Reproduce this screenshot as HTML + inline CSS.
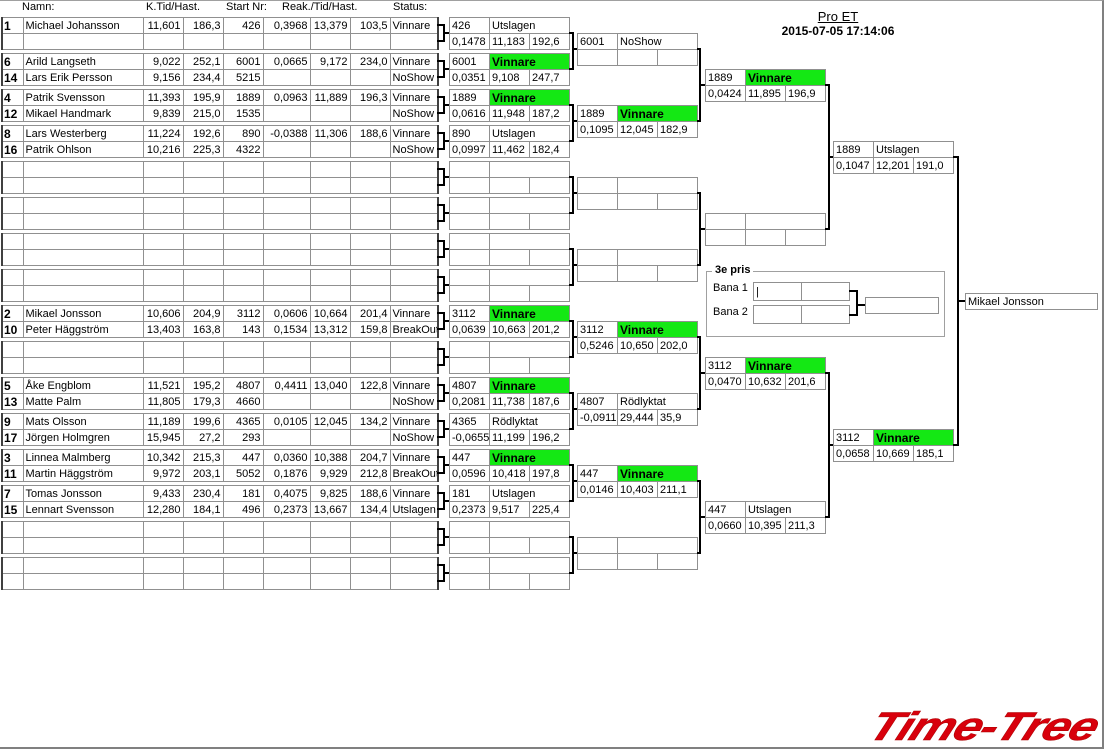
<!DOCTYPE html>
<html><head><meta charset="utf-8"><style>
body{margin:0;width:1104px;height:748px;background:#fff;position:relative;overflow:hidden;font-family:"Liberation Sans",Arial,sans-serif;font-size:11px;color:#000}
.frame{position:absolute;left:0;top:0;width:1102px;height:746px;border-right:2px solid #808080;border-bottom:2px solid #808080;border-top:1px solid #a0a0a0}
table{position:absolute;border-collapse:collapse;table-layout:fixed}
td{height:16px;padding:0 2px;border:1px solid #909090;white-space:nowrap;overflow:hidden;line-height:14px;font-size:11px;box-sizing:border-box}
.L td{text-align:right}
.L td.n{text-align:left;font-weight:bold;font-size:12px;padding:0 1px;border-left:2px solid #404040}
.L td.nm,.L td.st{text-align:left}
.L td.st{border-right:2px solid #404040}
.R{width:121px}
.g{background:#14e814;font-weight:bold;font-size:12px}
.b{position:absolute;background:#000}
.h{position:absolute;font-size:11px;top:1px}
</style></head><body>
<div class="frame"></div>
<div class="h" style="left:22px">Namn:</div>
<div class="h" style="left:146px">K.Tid/Hast.</div>
<div class="h" style="left:226px">Start Nr:</div>
<div class="h" style="left:282px">Reak./Tid/Hast.</div>
<div class="h" style="left:393px">Status:</div>
<div style="position:absolute;left:790px;top:9px;width:96px;text-align:center;font-size:13px;text-decoration:underline">Pro ET</div>
<div style="position:absolute;left:760px;top:24px;width:156px;text-align:center;font-size:12px;font-weight:bold">2015-07-05 17:14:06</div>

<table class="L" style="left:1px;top:17px;width:436px"><colgroup><col style="width:21px"><col style="width:120px"><col style="width:40px"><col style="width:40px"><col style="width:40px"><col style="width:47px"><col style="width:40px"><col style="width:40px"><col style="width:48px"></colgroup>
<tr><td class="n">1</td><td class="nm">Michael Johansson</td><td>11,601</td><td>186,3</td><td>426</td><td>0,3968</td><td>13,379</td><td>103,5</td><td class="st">Vinnare</td></tr>
<tr><td class="n"></td><td class="nm"></td><td></td><td></td><td></td><td></td><td></td><td></td><td class="st"></td></tr></table>
<table class="L" style="left:1px;top:53px;width:436px"><colgroup><col style="width:21px"><col style="width:120px"><col style="width:40px"><col style="width:40px"><col style="width:40px"><col style="width:47px"><col style="width:40px"><col style="width:40px"><col style="width:48px"></colgroup>
<tr><td class="n">6</td><td class="nm">Arild Langseth</td><td>9,022</td><td>252,1</td><td>6001</td><td>0,0665</td><td>9,172</td><td>234,0</td><td class="st">Vinnare</td></tr>
<tr><td class="n">14</td><td class="nm">Lars Erik Persson</td><td>9,156</td><td>234,4</td><td>5215</td><td></td><td></td><td></td><td class="st">NoShow</td></tr></table>
<table class="L" style="left:1px;top:89px;width:436px"><colgroup><col style="width:21px"><col style="width:120px"><col style="width:40px"><col style="width:40px"><col style="width:40px"><col style="width:47px"><col style="width:40px"><col style="width:40px"><col style="width:48px"></colgroup>
<tr><td class="n">4</td><td class="nm">Patrik Svensson</td><td>11,393</td><td>195,9</td><td>1889</td><td>0,0963</td><td>11,889</td><td>196,3</td><td class="st">Vinnare</td></tr>
<tr><td class="n">12</td><td class="nm">Mikael Handmark</td><td>9,839</td><td>215,0</td><td>1535</td><td></td><td></td><td></td><td class="st">NoShow</td></tr></table>
<table class="L" style="left:1px;top:125px;width:436px"><colgroup><col style="width:21px"><col style="width:120px"><col style="width:40px"><col style="width:40px"><col style="width:40px"><col style="width:47px"><col style="width:40px"><col style="width:40px"><col style="width:48px"></colgroup>
<tr><td class="n">8</td><td class="nm">Lars Westerberg</td><td>11,224</td><td>192,6</td><td>890</td><td>-0,0388</td><td>11,306</td><td>188,6</td><td class="st">Vinnare</td></tr>
<tr><td class="n">16</td><td class="nm">Patrik Ohlson</td><td>10,216</td><td>225,3</td><td>4322</td><td></td><td></td><td></td><td class="st">NoShow</td></tr></table>
<table class="L" style="left:1px;top:161px;width:436px"><colgroup><col style="width:21px"><col style="width:120px"><col style="width:40px"><col style="width:40px"><col style="width:40px"><col style="width:47px"><col style="width:40px"><col style="width:40px"><col style="width:48px"></colgroup>
<tr><td class="n"></td><td class="nm"></td><td></td><td></td><td></td><td></td><td></td><td></td><td class="st"></td></tr>
<tr><td class="n"></td><td class="nm"></td><td></td><td></td><td></td><td></td><td></td><td></td><td class="st"></td></tr></table>
<table class="L" style="left:1px;top:197px;width:436px"><colgroup><col style="width:21px"><col style="width:120px"><col style="width:40px"><col style="width:40px"><col style="width:40px"><col style="width:47px"><col style="width:40px"><col style="width:40px"><col style="width:48px"></colgroup>
<tr><td class="n"></td><td class="nm"></td><td></td><td></td><td></td><td></td><td></td><td></td><td class="st"></td></tr>
<tr><td class="n"></td><td class="nm"></td><td></td><td></td><td></td><td></td><td></td><td></td><td class="st"></td></tr></table>
<table class="L" style="left:1px;top:233px;width:436px"><colgroup><col style="width:21px"><col style="width:120px"><col style="width:40px"><col style="width:40px"><col style="width:40px"><col style="width:47px"><col style="width:40px"><col style="width:40px"><col style="width:48px"></colgroup>
<tr><td class="n"></td><td class="nm"></td><td></td><td></td><td></td><td></td><td></td><td></td><td class="st"></td></tr>
<tr><td class="n"></td><td class="nm"></td><td></td><td></td><td></td><td></td><td></td><td></td><td class="st"></td></tr></table>
<table class="L" style="left:1px;top:269px;width:436px"><colgroup><col style="width:21px"><col style="width:120px"><col style="width:40px"><col style="width:40px"><col style="width:40px"><col style="width:47px"><col style="width:40px"><col style="width:40px"><col style="width:48px"></colgroup>
<tr><td class="n"></td><td class="nm"></td><td></td><td></td><td></td><td></td><td></td><td></td><td class="st"></td></tr>
<tr><td class="n"></td><td class="nm"></td><td></td><td></td><td></td><td></td><td></td><td></td><td class="st"></td></tr></table>
<table class="L" style="left:1px;top:305px;width:436px"><colgroup><col style="width:21px"><col style="width:120px"><col style="width:40px"><col style="width:40px"><col style="width:40px"><col style="width:47px"><col style="width:40px"><col style="width:40px"><col style="width:48px"></colgroup>
<tr><td class="n">2</td><td class="nm">Mikael Jonsson</td><td>10,606</td><td>204,9</td><td>3112</td><td>0,0606</td><td>10,664</td><td>201,4</td><td class="st">Vinnare</td></tr>
<tr><td class="n">10</td><td class="nm">Peter Häggström</td><td>13,403</td><td>163,8</td><td>143</td><td>0,1534</td><td>13,312</td><td>159,8</td><td class="st">BreakOut</td></tr></table>
<table class="L" style="left:1px;top:341px;width:436px"><colgroup><col style="width:21px"><col style="width:120px"><col style="width:40px"><col style="width:40px"><col style="width:40px"><col style="width:47px"><col style="width:40px"><col style="width:40px"><col style="width:48px"></colgroup>
<tr><td class="n"></td><td class="nm"></td><td></td><td></td><td></td><td></td><td></td><td></td><td class="st"></td></tr>
<tr><td class="n"></td><td class="nm"></td><td></td><td></td><td></td><td></td><td></td><td></td><td class="st"></td></tr></table>
<table class="L" style="left:1px;top:377px;width:436px"><colgroup><col style="width:21px"><col style="width:120px"><col style="width:40px"><col style="width:40px"><col style="width:40px"><col style="width:47px"><col style="width:40px"><col style="width:40px"><col style="width:48px"></colgroup>
<tr><td class="n">5</td><td class="nm">Åke Engblom</td><td>11,521</td><td>195,2</td><td>4807</td><td>0,4411</td><td>13,040</td><td>122,8</td><td class="st">Vinnare</td></tr>
<tr><td class="n">13</td><td class="nm">Matte Palm</td><td>11,805</td><td>179,3</td><td>4660</td><td></td><td></td><td></td><td class="st">NoShow</td></tr></table>
<table class="L" style="left:1px;top:413px;width:436px"><colgroup><col style="width:21px"><col style="width:120px"><col style="width:40px"><col style="width:40px"><col style="width:40px"><col style="width:47px"><col style="width:40px"><col style="width:40px"><col style="width:48px"></colgroup>
<tr><td class="n">9</td><td class="nm">Mats Olsson</td><td>11,189</td><td>199,6</td><td>4365</td><td>0,0105</td><td>12,045</td><td>134,2</td><td class="st">Vinnare</td></tr>
<tr><td class="n">17</td><td class="nm">Jörgen Holmgren</td><td>15,945</td><td>27,2</td><td>293</td><td></td><td></td><td></td><td class="st">NoShow</td></tr></table>
<table class="L" style="left:1px;top:449px;width:436px"><colgroup><col style="width:21px"><col style="width:120px"><col style="width:40px"><col style="width:40px"><col style="width:40px"><col style="width:47px"><col style="width:40px"><col style="width:40px"><col style="width:48px"></colgroup>
<tr><td class="n">3</td><td class="nm">Linnea Malmberg</td><td>10,342</td><td>215,3</td><td>447</td><td>0,0360</td><td>10,388</td><td>204,7</td><td class="st">Vinnare</td></tr>
<tr><td class="n">11</td><td class="nm">Martin Häggström</td><td>9,972</td><td>203,1</td><td>5052</td><td>0,1876</td><td>9,929</td><td>212,8</td><td class="st">BreakOut</td></tr></table>
<table class="L" style="left:1px;top:485px;width:436px"><colgroup><col style="width:21px"><col style="width:120px"><col style="width:40px"><col style="width:40px"><col style="width:40px"><col style="width:47px"><col style="width:40px"><col style="width:40px"><col style="width:48px"></colgroup>
<tr><td class="n">7</td><td class="nm">Tomas Jonsson</td><td>9,433</td><td>230,4</td><td>181</td><td>0,4075</td><td>9,825</td><td>188,6</td><td class="st">Vinnare</td></tr>
<tr><td class="n">15</td><td class="nm">Lennart Svensson</td><td>12,280</td><td>184,1</td><td>496</td><td>0,2373</td><td>13,667</td><td>134,4</td><td class="st">Utslagen</td></tr></table>
<table class="L" style="left:1px;top:521px;width:436px"><colgroup><col style="width:21px"><col style="width:120px"><col style="width:40px"><col style="width:40px"><col style="width:40px"><col style="width:47px"><col style="width:40px"><col style="width:40px"><col style="width:48px"></colgroup>
<tr><td class="n"></td><td class="nm"></td><td></td><td></td><td></td><td></td><td></td><td></td><td class="st"></td></tr>
<tr><td class="n"></td><td class="nm"></td><td></td><td></td><td></td><td></td><td></td><td></td><td class="st"></td></tr></table>
<table class="L" style="left:1px;top:557px;width:436px"><colgroup><col style="width:21px"><col style="width:120px"><col style="width:40px"><col style="width:40px"><col style="width:40px"><col style="width:47px"><col style="width:40px"><col style="width:40px"><col style="width:48px"></colgroup>
<tr><td class="n"></td><td class="nm"></td><td></td><td></td><td></td><td></td><td></td><td></td><td class="st"></td></tr>
<tr><td class="n"></td><td class="nm"></td><td></td><td></td><td></td><td></td><td></td><td></td><td class="st"></td></tr></table>

<table class="R" style="left:449px;top:17px"><tr><td>426</td><td colspan="2">Utslagen</td></tr><tr><td>0,1478</td><td>11,183</td><td>192,6</td></tr></table>
<table class="R" style="left:449px;top:53px"><tr><td>6001</td><td colspan="2" class="g">Vinnare</td></tr><tr><td>0,0351</td><td>9,108</td><td>247,7</td></tr></table>
<table class="R" style="left:449px;top:89px"><tr><td>1889</td><td colspan="2" class="g">Vinnare</td></tr><tr><td>0,0616</td><td>11,948</td><td>187,2</td></tr></table>
<table class="R" style="left:449px;top:125px"><tr><td>890</td><td colspan="2">Utslagen</td></tr><tr><td>0,0997</td><td>11,462</td><td>182,4</td></tr></table>
<table class="R" style="left:449px;top:161px"><tr><td></td><td colspan="2"></td></tr><tr><td></td><td></td><td></td></tr></table>
<table class="R" style="left:449px;top:197px"><tr><td></td><td colspan="2"></td></tr><tr><td></td><td></td><td></td></tr></table>
<table class="R" style="left:449px;top:233px"><tr><td></td><td colspan="2"></td></tr><tr><td></td><td></td><td></td></tr></table>
<table class="R" style="left:449px;top:269px"><tr><td></td><td colspan="2"></td></tr><tr><td></td><td></td><td></td></tr></table>
<table class="R" style="left:449px;top:305px"><tr><td>3112</td><td colspan="2" class="g">Vinnare</td></tr><tr><td>0,0639</td><td>10,663</td><td>201,2</td></tr></table>
<table class="R" style="left:449px;top:341px"><tr><td></td><td colspan="2"></td></tr><tr><td></td><td></td><td></td></tr></table>
<table class="R" style="left:449px;top:377px"><tr><td>4807</td><td colspan="2" class="g">Vinnare</td></tr><tr><td>0,2081</td><td>11,738</td><td>187,6</td></tr></table>
<table class="R" style="left:449px;top:413px"><tr><td>4365</td><td colspan="2">Rödlyktat</td></tr><tr><td>-0,0655</td><td>11,199</td><td>196,2</td></tr></table>
<table class="R" style="left:449px;top:449px"><tr><td>447</td><td colspan="2" class="g">Vinnare</td></tr><tr><td>0,0596</td><td>10,418</td><td>197,8</td></tr></table>
<table class="R" style="left:449px;top:485px"><tr><td>181</td><td colspan="2">Utslagen</td></tr><tr><td>0,2373</td><td>9,517</td><td>225,4</td></tr></table>
<table class="R" style="left:449px;top:521px"><tr><td></td><td colspan="2"></td></tr><tr><td></td><td></td><td></td></tr></table>
<table class="R" style="left:449px;top:557px"><tr><td></td><td colspan="2"></td></tr><tr><td></td><td></td><td></td></tr></table>

<table class="R" style="left:577px;top:33px"><tr><td>6001</td><td colspan="2">NoShow</td></tr><tr><td></td><td></td><td></td></tr></table>
<table class="R" style="left:577px;top:105px"><tr><td>1889</td><td colspan="2" class="g">Vinnare</td></tr><tr><td>0,1095</td><td>12,045</td><td>182,9</td></tr></table>
<table class="R" style="left:577px;top:177px"><tr><td></td><td colspan="2"></td></tr><tr><td></td><td></td><td></td></tr></table>
<table class="R" style="left:577px;top:249px"><tr><td></td><td colspan="2"></td></tr><tr><td></td><td></td><td></td></tr></table>
<table class="R" style="left:577px;top:321px"><tr><td>3112</td><td colspan="2" class="g">Vinnare</td></tr><tr><td>0,5246</td><td>10,650</td><td>202,0</td></tr></table>
<table class="R" style="left:577px;top:393px"><tr><td>4807</td><td colspan="2">Rödlyktat</td></tr><tr><td>-0,0911</td><td>29,444</td><td>35,9</td></tr></table>
<table class="R" style="left:577px;top:465px"><tr><td>447</td><td colspan="2" class="g">Vinnare</td></tr><tr><td>0,0146</td><td>10,403</td><td>211,1</td></tr></table>
<table class="R" style="left:577px;top:537px"><tr><td></td><td colspan="2"></td></tr><tr><td></td><td></td><td></td></tr></table>

<table class="R" style="left:705px;top:69px"><tr><td>1889</td><td colspan="2" class="g">Vinnare</td></tr><tr><td>0,0424</td><td>11,895</td><td>196,9</td></tr></table>
<table class="R" style="left:705px;top:213px"><tr><td></td><td colspan="2"></td></tr><tr><td></td><td></td><td></td></tr></table>
<table class="R" style="left:705px;top:357px"><tr><td>3112</td><td colspan="2" class="g">Vinnare</td></tr><tr><td>0,0470</td><td>10,632</td><td>201,6</td></tr></table>
<table class="R" style="left:705px;top:501px"><tr><td>447</td><td colspan="2">Utslagen</td></tr><tr><td>0,0660</td><td>10,395</td><td>211,3</td></tr></table>

<table class="R" style="left:833px;top:141px"><tr><td>1889</td><td colspan="2">Utslagen</td></tr><tr><td>0,1047</td><td>12,201</td><td>191,0</td></tr></table>
<table class="R" style="left:833px;top:429px"><tr><td>3112</td><td colspan="2" class="g">Vinnare</td></tr><tr><td>0,0658</td><td>10,669</td><td>185,1</td></tr></table>

<table style="left:965px;top:293px;width:133px"><tr><td>Mikael Jonsson</td></tr></table>

<div style="position:absolute;left:706px;top:271px;width:237px;height:64px;border:1px solid #a0a0a0"></div>
<div style="position:absolute;left:712px;top:264px;background:#fff;padding:0 3px;font-weight:bold;font-size:11px">3e pris</div>
<div style="position:absolute;left:713px;top:282px">Bana 1</div>
<div style="position:absolute;left:713px;top:306px">Bana 2</div>
<table style="left:753px;top:282px;width:97px"><tr><td style="height:18px">|</td><td style="height:18px"></td></tr></table>
<table style="left:753px;top:305px;width:97px"><tr><td style="height:18px"></td><td style="height:18px"></td></tr></table>
<table style="left:865px;top:297px;width:74px"><tr><td></td></tr></table>
<div class="b" style="left:849px;top:290px;width:9px;height:2px"></div>
<div class="b" style="left:849px;top:314px;width:9px;height:2px"></div>
<div class="b" style="left:856px;top:290px;width:2px;height:26px"></div>
<div class="b" style="left:856px;top:304px;width:9px;height:2px"></div>

<div style="position:absolute;left:0;top:0">
<div class="b" style="left:437px;top:24px;width:8px;height:2px"></div><div class="b" style="left:437px;top:40px;width:8px;height:2px"></div><div class="b" style="left:443px;top:24px;width:2px;height:18px"></div><div class="b" style="left:443px;top:32px;width:6px;height:2px"></div>
<div class="b" style="left:437px;top:60px;width:8px;height:2px"></div><div class="b" style="left:437px;top:76px;width:8px;height:2px"></div><div class="b" style="left:443px;top:60px;width:2px;height:18px"></div><div class="b" style="left:443px;top:68px;width:6px;height:2px"></div>
<div class="b" style="left:437px;top:96px;width:8px;height:2px"></div><div class="b" style="left:437px;top:112px;width:8px;height:2px"></div><div class="b" style="left:443px;top:96px;width:2px;height:18px"></div><div class="b" style="left:443px;top:104px;width:6px;height:2px"></div>
<div class="b" style="left:437px;top:132px;width:8px;height:2px"></div><div class="b" style="left:437px;top:148px;width:8px;height:2px"></div><div class="b" style="left:443px;top:132px;width:2px;height:18px"></div><div class="b" style="left:443px;top:140px;width:6px;height:2px"></div>
<div class="b" style="left:437px;top:168px;width:8px;height:2px"></div><div class="b" style="left:437px;top:184px;width:8px;height:2px"></div><div class="b" style="left:443px;top:168px;width:2px;height:18px"></div><div class="b" style="left:443px;top:176px;width:6px;height:2px"></div>
<div class="b" style="left:437px;top:204px;width:8px;height:2px"></div><div class="b" style="left:437px;top:220px;width:8px;height:2px"></div><div class="b" style="left:443px;top:204px;width:2px;height:18px"></div><div class="b" style="left:443px;top:212px;width:6px;height:2px"></div>
<div class="b" style="left:437px;top:240px;width:8px;height:2px"></div><div class="b" style="left:437px;top:256px;width:8px;height:2px"></div><div class="b" style="left:443px;top:240px;width:2px;height:18px"></div><div class="b" style="left:443px;top:248px;width:6px;height:2px"></div>
<div class="b" style="left:437px;top:276px;width:8px;height:2px"></div><div class="b" style="left:437px;top:292px;width:8px;height:2px"></div><div class="b" style="left:443px;top:276px;width:2px;height:18px"></div><div class="b" style="left:443px;top:284px;width:6px;height:2px"></div>
<div class="b" style="left:437px;top:312px;width:8px;height:2px"></div><div class="b" style="left:437px;top:328px;width:8px;height:2px"></div><div class="b" style="left:443px;top:312px;width:2px;height:18px"></div><div class="b" style="left:443px;top:320px;width:6px;height:2px"></div>
<div class="b" style="left:437px;top:348px;width:8px;height:2px"></div><div class="b" style="left:437px;top:364px;width:8px;height:2px"></div><div class="b" style="left:443px;top:348px;width:2px;height:18px"></div><div class="b" style="left:443px;top:356px;width:6px;height:2px"></div>
<div class="b" style="left:437px;top:384px;width:8px;height:2px"></div><div class="b" style="left:437px;top:400px;width:8px;height:2px"></div><div class="b" style="left:443px;top:384px;width:2px;height:18px"></div><div class="b" style="left:443px;top:392px;width:6px;height:2px"></div>
<div class="b" style="left:437px;top:420px;width:8px;height:2px"></div><div class="b" style="left:437px;top:436px;width:8px;height:2px"></div><div class="b" style="left:443px;top:420px;width:2px;height:18px"></div><div class="b" style="left:443px;top:428px;width:6px;height:2px"></div>
<div class="b" style="left:437px;top:456px;width:8px;height:2px"></div><div class="b" style="left:437px;top:472px;width:8px;height:2px"></div><div class="b" style="left:443px;top:456px;width:2px;height:18px"></div><div class="b" style="left:443px;top:464px;width:6px;height:2px"></div>
<div class="b" style="left:437px;top:492px;width:8px;height:2px"></div><div class="b" style="left:437px;top:508px;width:8px;height:2px"></div><div class="b" style="left:443px;top:492px;width:2px;height:18px"></div><div class="b" style="left:443px;top:500px;width:6px;height:2px"></div>
<div class="b" style="left:437px;top:528px;width:8px;height:2px"></div><div class="b" style="left:437px;top:544px;width:8px;height:2px"></div><div class="b" style="left:443px;top:528px;width:2px;height:18px"></div><div class="b" style="left:443px;top:536px;width:6px;height:2px"></div>
<div class="b" style="left:437px;top:564px;width:8px;height:2px"></div><div class="b" style="left:437px;top:580px;width:8px;height:2px"></div><div class="b" style="left:443px;top:564px;width:2px;height:18px"></div><div class="b" style="left:443px;top:572px;width:6px;height:2px"></div>
</div>

<div class="b" style="left:569px;top:32px;width:5px;height:2px"></div><div class="b" style="left:569px;top:68px;width:5px;height:2px"></div><div class="b" style="left:572px;top:32px;width:2px;height:38px"></div><div class="b" style="left:572px;top:48px;width:5px;height:2px"></div>
<div class="b" style="left:569px;top:104px;width:5px;height:2px"></div><div class="b" style="left:569px;top:140px;width:5px;height:2px"></div><div class="b" style="left:572px;top:104px;width:2px;height:38px"></div><div class="b" style="left:572px;top:120px;width:5px;height:2px"></div>
<div class="b" style="left:569px;top:176px;width:5px;height:2px"></div><div class="b" style="left:569px;top:212px;width:5px;height:2px"></div><div class="b" style="left:572px;top:176px;width:2px;height:38px"></div><div class="b" style="left:572px;top:192px;width:5px;height:2px"></div>
<div class="b" style="left:569px;top:248px;width:5px;height:2px"></div><div class="b" style="left:569px;top:284px;width:5px;height:2px"></div><div class="b" style="left:572px;top:248px;width:2px;height:38px"></div><div class="b" style="left:572px;top:264px;width:5px;height:2px"></div>
<div class="b" style="left:569px;top:320px;width:5px;height:2px"></div><div class="b" style="left:569px;top:356px;width:5px;height:2px"></div><div class="b" style="left:572px;top:320px;width:2px;height:38px"></div><div class="b" style="left:572px;top:336px;width:5px;height:2px"></div>
<div class="b" style="left:569px;top:392px;width:5px;height:2px"></div><div class="b" style="left:569px;top:428px;width:5px;height:2px"></div><div class="b" style="left:572px;top:392px;width:2px;height:38px"></div><div class="b" style="left:572px;top:408px;width:5px;height:2px"></div>
<div class="b" style="left:569px;top:464px;width:5px;height:2px"></div><div class="b" style="left:569px;top:500px;width:5px;height:2px"></div><div class="b" style="left:572px;top:464px;width:2px;height:38px"></div><div class="b" style="left:572px;top:480px;width:5px;height:2px"></div>
<div class="b" style="left:569px;top:536px;width:5px;height:2px"></div><div class="b" style="left:569px;top:572px;width:5px;height:2px"></div><div class="b" style="left:572px;top:536px;width:2px;height:38px"></div><div class="b" style="left:572px;top:552px;width:5px;height:2px"></div>

<div class="b" style="left:697px;top:48px;width:4px;height:2px"></div><div class="b" style="left:697px;top:120px;width:4px;height:2px"></div><div class="b" style="left:699px;top:48px;width:2px;height:74px"></div><div class="b" style="left:699px;top:84px;width:6px;height:2px"></div>
<div class="b" style="left:697px;top:192px;width:4px;height:2px"></div><div class="b" style="left:697px;top:264px;width:4px;height:2px"></div><div class="b" style="left:699px;top:192px;width:2px;height:74px"></div><div class="b" style="left:699px;top:228px;width:6px;height:2px"></div>
<div class="b" style="left:697px;top:336px;width:4px;height:2px"></div><div class="b" style="left:697px;top:408px;width:4px;height:2px"></div><div class="b" style="left:699px;top:336px;width:2px;height:74px"></div><div class="b" style="left:699px;top:372px;width:6px;height:2px"></div>
<div class="b" style="left:697px;top:480px;width:4px;height:2px"></div><div class="b" style="left:697px;top:552px;width:4px;height:2px"></div><div class="b" style="left:699px;top:480px;width:2px;height:74px"></div><div class="b" style="left:699px;top:516px;width:6px;height:2px"></div>

<div class="b" style="left:825px;top:84px;width:5px;height:2px"></div><div class="b" style="left:825px;top:228px;width:5px;height:2px"></div><div class="b" style="left:828px;top:84px;width:2px;height:146px"></div><div class="b" style="left:828px;top:156px;width:5px;height:2px"></div>
<div class="b" style="left:825px;top:372px;width:5px;height:2px"></div><div class="b" style="left:825px;top:516px;width:5px;height:2px"></div><div class="b" style="left:828px;top:372px;width:2px;height:146px"></div><div class="b" style="left:828px;top:444px;width:5px;height:2px"></div>

<div class="b" style="left:953px;top:156px;width:6px;height:2px"></div><div class="b" style="left:953px;top:444px;width:6px;height:2px"></div><div class="b" style="left:957px;top:156px;width:2px;height:290px"></div><div class="b" style="left:957px;top:300px;width:8px;height:2px"></div>

<div style="position:absolute;left:867px;top:705px;width:234px;text-align:center;font-family:'Liberation Sans',sans-serif;font-weight:bold;font-style:italic;font-size:40px;color:#d8000c;letter-spacing:-1px;transform:scaleX(1.25) skewX(-18deg);transform-origin:center;line-height:44px;-webkit-text-stroke:0.5px #a00">Time-Tree</div>
</body></html>
